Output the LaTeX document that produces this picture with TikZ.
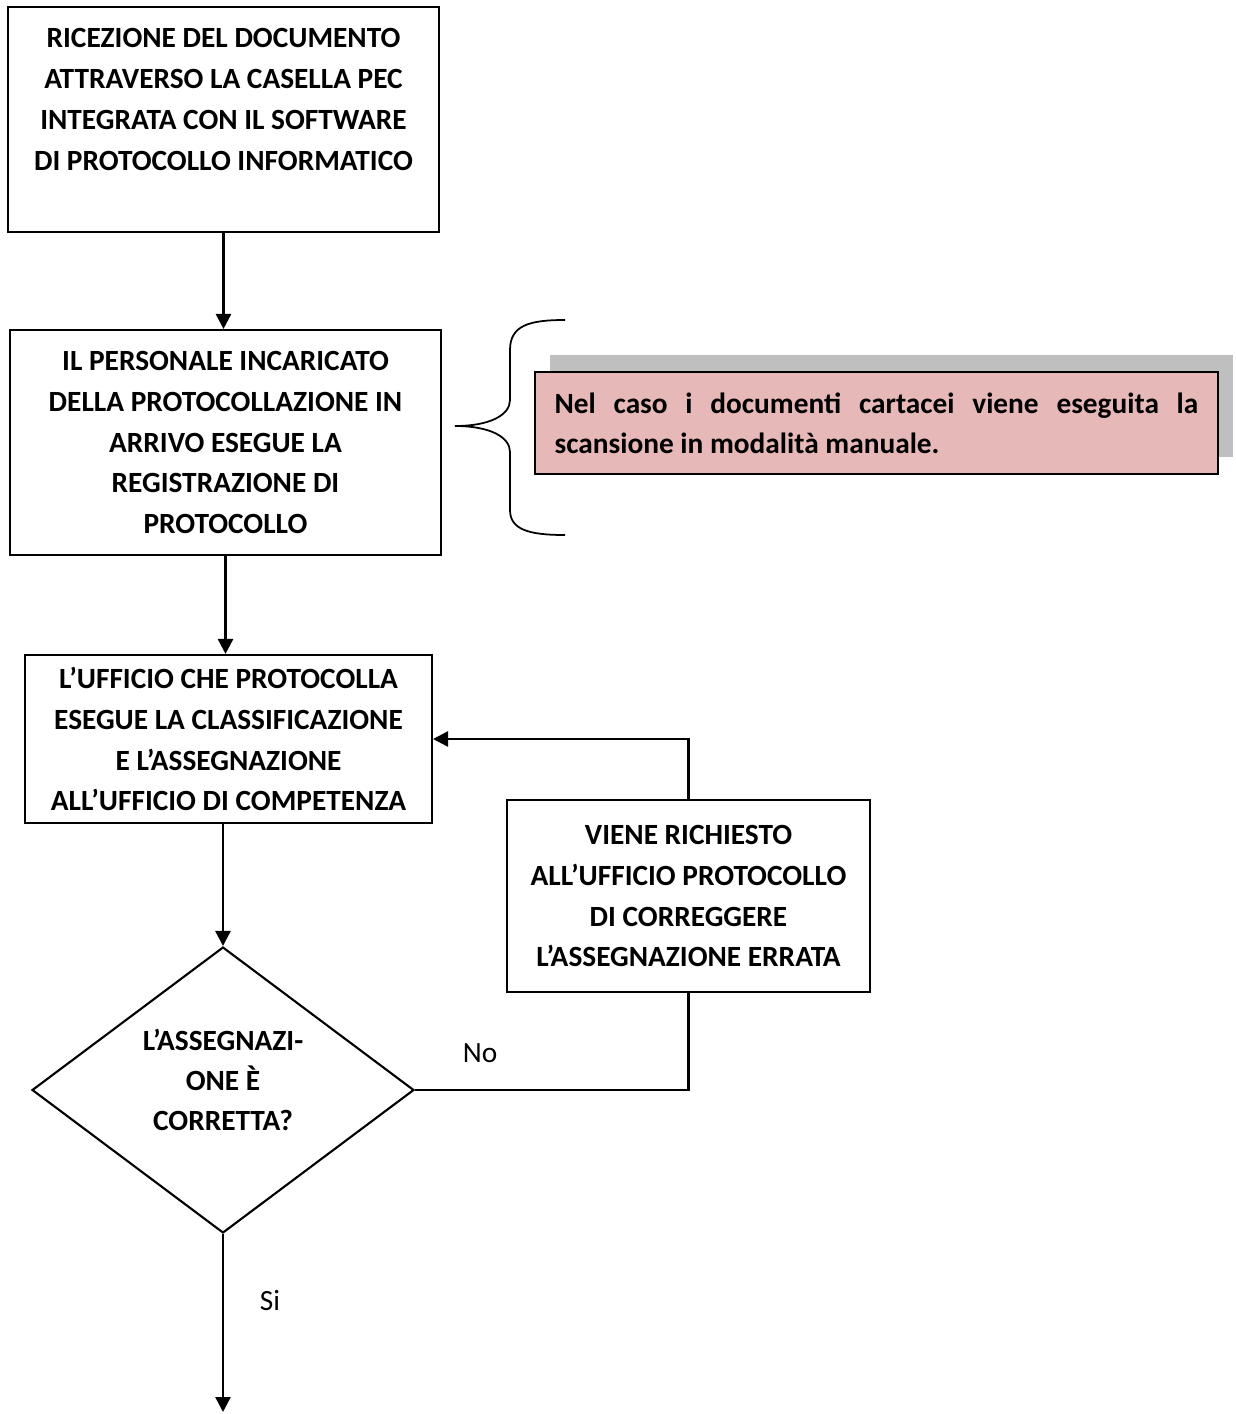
\documentclass[tikz,border=0pt]{standalone}
\usepackage{fontspec}
\setmainfont{Carlito}
\usepackage{tikz}
\usetikzlibrary{arrows.meta, shapes.geometric, shadows}
\definecolor{notepink}{HTML}{E6B8B7}
\tikzstyle{flowblock} = [draw, line width=1.2pt, fill=white, align=center, inner sep=0pt, font=\fontsize{16.7}{23.3}\selectfont\bfseries]
\tikzstyle{decisionblock} = [draw, line width=1.2pt, fill=white, diamond, inner sep=0pt]
\tikzstyle{decisiontext} = [align=center, inner sep=0pt, yshift=0.2cm, font=\fontsize{16.7}{22.6}\selectfont\bfseries]
\tikzstyle{noteblock} = [draw, line width=1.2pt, fill=notepink, inner sep=0pt, drop shadow={shadow xshift=0.3cm, shadow yshift=0.34cm, fill=black!25, opacity=1}]
\tikzstyle{flowline} = [line width=1.4pt, -{Triangle[width=0.3cm, length=0.3cm]}]

\begin{document}
\begin{tikzpicture}[x=0.02cm, y=-0.02cm]
      \useasboundingbox (0, 0) rectangle (1235, 1414);
      \node[flowblock, minimum width=8.62cm, minimum height=4.5cm] (ricezione) at (223.5, 119.5) {RICEZIONE DEL DOCUMENTO\\ATTRAVERSO LA CASELLA PEC\\INTEGRATA CON IL SOFTWARE\\DI PROTOCOLLO INFORMATICO\\~};
      \node[flowblock, minimum width=8.62cm, minimum height=4.5cm] (registrazione) at (225.5, 442.5) {IL PERSONALE INCARICATO\\DELLA PROTOCOLLAZIONE IN\\ARRIVO ESEGUE LA\\REGISTRAZIONE DI\\PROTOCOLLO};
      \node[noteblock, minimum width=13.66cm, minimum height=2.04cm] (nota) at (876.5, 423) {\parbox{12.88cm}{\fontsize{16.7}{22.8}\selectfont\bfseries Nel caso i documenti cartacei viene eseguita la\linebreak scansione in modalità manuale.}};
      \node[flowblock, minimum width=8.14cm, minimum height=3.36cm] (classificazione) at (228.5, 739) {L’UFFICIO CHE PROTOCOLLA\\ESEGUE LA CLASSIFICAZIONE\\E L’ASSEGNAZIONE\\ALL’UFFICIO DI COMPETENZA};
      \node[flowblock, minimum width=7.26cm, minimum height=3.84cm] (correzione) at (688.5, 896) {VIENE RICHIESTO\\ALL’UFFICIO PROTOCOLLO\\DI CORREGGERE\\L’ASSEGNAZIONE ERRATA};
      \node[decisionblock, minimum width=7.64cm, minimum height=5.72cm, label={[decisiontext]center:L’ASSEGNAZI-\\ONE È\\CORRETTA?}] (verifica) at (223, 1090) {};
      \node[font=\fontsize{16.7}{20}\selectfont] (no) at (480, 1053) {No};
      \node[font=\fontsize{16.7}{20}\selectfont] (si) at (270, 1300) {Si};
      \coordinate (fine) at (223, 1412);

      % brace next to the registration box
      \draw[line width=1pt] (565, 320) .. controls (530, 320) and (510, 325) .. (510, 350) -- (510, 400)
            .. controls (510, 415) and (490, 426) .. (455, 426)
            .. controls (490, 426) and (510, 437) .. (510, 452) -- (510, 510)
            .. controls (510, 530) and (530, 535) .. (565, 535);

      \draw[flowline] (ricezione.south) -- (ricezione.south |- registrazione.north);
      \draw[flowline] (registrazione.south) -- (registrazione.south |- classificazione.north);
      \draw[flowline] (classificazione.south -| verifica.north) -- (verifica.north);
      \draw[line width=1.4pt] (verifica.east) -| (correzione.south);
      \draw[flowline] (correzione.north) |- (classificazione.east);
      \draw[flowline] (verifica.south) -- (fine);
    \end{tikzpicture}
\end{document}
